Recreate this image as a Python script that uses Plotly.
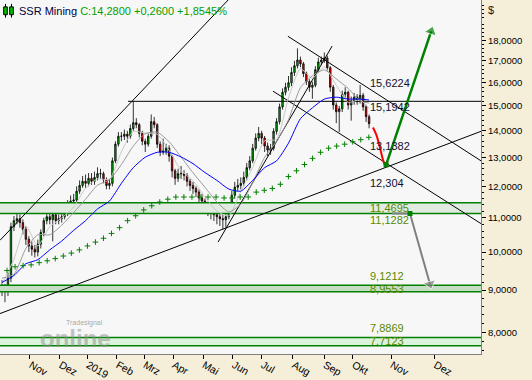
import math
import numpy as np
import plotly.graph_objects as go

# ---------------- data (2-trading-day bars, index = bar number) ----------------
opens = [9.10, 9.04, 9.00, 9.30, 10.73, 10.91, 10.97, 10.85, 10.65, 10.36,
         10.17, 10.08, 10.00, 10.22, 10.56, 10.91, 11.03, 10.94, 11.09, 10.91,
         10.97, 11.03, 11.15, 11.40, 11.52, 11.55, 11.84, 12.03, 12.17, 12.10,
         12.27, 12.17, 12.30, 12.43, 12.43, 12.23, 12.03, 12.10, 12.88, 13.49,
         13.79, 13.79, 13.87, 13.79, 14.09, 14.32, 14.24, 13.90, 13.60, 13.49,
         13.79, 14.36, 14.24, 13.49, 13.20, 13.23, 13.34, 13.05, 12.53, 12.27,
         12.43, 12.43, 12.37, 12.17, 12.03, 11.93, 11.81, 11.62, 11.52, 11.40,
         11.27, 11.21, 11.09, 11.03, 10.97, 10.94, 11.03, 11.33, 11.71, 11.97,
         12.03, 12.10, 12.30, 12.64, 12.88, 13.34, 13.72, 13.90, 13.72, 13.42,
         13.27, 13.34, 13.98, 14.36, 14.96, 15.58, 15.80, 16.00, 16.46, 16.77,
         17.04, 16.86, 16.41, 16.05, 15.80, 15.89, 16.59, 16.95, 17.04, 17.14,
         16.68, 15.80, 15.04, 14.76, 14.88, 15.50, 15.58, 15.04, 15.20, 15.37,
         15.25, 15.45, 14.96, 14.56]
highs = [9.25, 9.15, 9.45, 10.85, 11.05, 11.12, 11.10, 10.95, 10.75, 10.45,
         10.30, 10.20, 10.35, 10.65, 11.00, 11.20, 11.15, 11.25, 11.20, 11.10,
         11.20, 11.30, 11.55, 11.70, 11.75, 12.00, 12.20, 12.35, 12.40, 12.45,
         12.45, 12.50, 12.65, 12.60, 12.50, 12.30, 12.25, 13.00, 13.60, 13.95,
         13.95, 14.05, 14.00, 14.25, 15.20, 14.50, 14.30, 14.00, 13.70, 13.90,
         14.65, 14.55, 14.30, 13.60, 13.70, 13.50, 13.45, 13.10, 12.60, 12.60,
         12.70, 12.55, 12.45, 12.25, 12.15, 12.00, 11.90, 11.75, 11.60, 11.50,
         11.40, 11.30, 11.20, 11.15, 11.10, 11.20, 11.45, 11.85, 12.15, 12.25,
         12.30, 12.50, 12.80, 13.05, 13.50, 13.90, 14.15, 14.00, 13.80, 13.55,
         13.50, 14.10, 14.50, 15.10, 15.75, 16.00, 16.30, 16.70, 17.00, 17.60,
         17.20, 16.95, 16.50, 16.15, 16.05, 16.75, 17.15, 17.20, 17.40, 17.25,
         16.75, 15.90, 15.15, 15.00, 15.65, 15.80, 15.65, 15.40, 15.55, 15.50,
         15.90, 15.55, 15.05, 14.65]
lows = [8.85, 8.70, 8.85, 9.20, 10.60, 10.80, 10.70, 10.50, 10.20, 10.00,
        9.90, 9.85, 9.88, 10.10, 10.45, 10.80, 10.80, 10.30, 10.80, 10.80,
        10.85, 10.95, 11.05, 11.30, 11.40, 11.45, 11.75, 11.95, 11.95, 12.00,
        12.05, 12.05, 12.20, 12.25, 12.10, 11.90, 11.90, 12.00, 12.80, 13.40,
        13.60, 13.65, 13.55, 13.70, 14.00, 14.10, 13.75, 13.45, 13.20, 13.40,
        13.70, 14.10, 13.35, 13.05, 13.10, 13.10, 12.85, 12.30, 12.05, 12.15,
        12.25, 12.20, 12.00, 11.85, 11.75, 11.65, 11.45, 11.35, 11.20, 11.05,
        10.95, 10.90, 10.80, 10.75, 10.65, 10.70, 10.95, 11.25, 11.60, 11.85,
        11.90, 12.00, 12.20, 12.55, 12.80, 13.25, 13.60, 13.50, 13.20, 13.05,
        13.10, 13.25, 13.85, 14.25, 14.85, 15.45, 15.65, 15.85, 16.30, 16.65,
        16.70, 16.25, 15.90, 15.60, 15.30, 15.80, 16.45, 16.80, 16.90, 16.50,
        15.60, 14.85, 14.30, 13.95, 14.75, 15.35, 14.85, 14.40, 15.05, 15.05,
        15.10, 14.80, 14.35, 14.10]
closes = [9.04, 9.00, 9.30, 10.73, 10.91, 10.97, 10.85, 10.65, 10.36, 10.17,
          10.08, 10.00, 10.22, 10.56, 10.91, 11.03, 10.94, 11.09, 10.91, 10.97,
          11.03, 11.15, 11.40, 11.52, 11.55, 11.84, 12.03, 12.17, 12.10, 12.27,
          12.17, 12.30, 12.43, 12.43, 12.23, 12.03, 12.10, 12.88, 13.49, 13.79,
          13.79, 13.87, 13.79, 14.09, 14.32, 14.24, 13.90, 13.60, 13.49, 13.79,
          14.36, 14.24, 13.49, 13.20, 13.23, 13.34, 13.05, 12.53, 12.27, 12.43,
          12.43, 12.37, 12.17, 12.03, 11.93, 11.81, 11.62, 11.52, 11.40, 11.27,
          11.21, 11.09, 11.03, 10.97, 10.94, 11.03, 11.33, 11.71, 11.97, 12.03,
          12.10, 12.30, 12.64, 12.88, 13.34, 13.72, 13.90, 13.72, 13.42, 13.27,
          13.34, 13.98, 14.36, 14.96, 15.58, 15.80, 16.00, 16.46, 16.77, 17.04,
          16.86, 16.41, 16.05, 15.80, 15.89, 16.59, 16.95, 17.04, 17.14, 16.68,
          15.80, 15.04, 14.76, 14.88, 15.50, 15.58, 15.04, 15.20, 15.37, 15.25,
          15.45, 14.96, 14.56, 14.28]
bars = list(range(len(closes)))

# moving averages sampled every 4 bars (last at bar 123)
ma_bars = list(range(0, 121, 4)) + [123]
ma_fast = [9.15, 9.80, 10.75, 10.17, 10.73, 10.99, 11.33, 11.94, 12.25, 12.24,
           13.21, 13.97, 13.91, 13.87, 13.26, 12.54, 12.19, 11.66, 11.20, 11.06,
           11.83, 12.65, 13.62, 13.67, 15.34, 16.63, 16.20, 16.72, 15.88, 15.15,
           15.26, 14.90]
ma_mid = [9.30, 9.40, 10.10, 10.49, 10.49, 10.77, 11.16, 11.58, 12.04, 12.22,
          12.75, 13.42, 13.89, 13.95, 13.58, 13.02, 12.46, 11.97, 11.49, 11.18,
          11.42, 12.13, 13.01, 13.59, 14.44, 15.78, 16.31, 16.58, 16.17, 15.75,
          15.21, 15.12]
ma_blue = [9.19, 9.37, 9.68, 9.79, 10.06, 10.31, 10.62, 10.91, 11.27, 11.52,
           12.10, 12.64, 13.01, 13.19, 13.19, 13.02, 12.78, 12.47, 12.20, 11.91,
           11.84, 12.20, 12.64, 12.88, 13.53, 14.48, 14.92, 15.29, 15.37, 15.29,
           15.29, 15.25]
# slow average drawn as weekly "+" marks
ma_slow = [9.50, 9.60, 9.63, 9.65, 9.71, 9.76, 9.82, 9.89, 9.97, 10.06,
           10.17, 10.28, 10.39, 10.53, 10.70, 10.91, 11.06, 11.24, 11.37, 11.49,
           11.58, 11.65, 11.65, 11.65, 11.65, 11.65, 11.65, 11.62, 11.62, 11.65,
           11.65, 11.81, 11.87, 11.93, 12.07, 12.33, 12.53, 12.75, 12.97, 13.19,
           13.34, 13.42, 13.49, 13.58, 13.66, 13.75]
slow_bars = 1.68 + 2.694 * np.arange(len(ma_slow))

# horizontal levels / zones
zones = [(11.1282, 11.4695, '#E1EBE1'), (8.9553, 9.1212, '#C4DDC4'), (7.7123, 7.8869, '#DBF2DB')]
levels = [("15,6224", 15.6224, 8, '#101030'), ("15,1942", 15.1942, -6, '#101030'),
          ("13,1382", 13.1382, 8, '#101030'), ("12,304", 12.304, -6, '#101030'),
          ("11,4695", 11.4695, -5, '#5a8a00'), ("11,1282", 11.1282, -6, '#5a8a00'),
          ("9,1212", 9.1212, 9, '#5a8a00'), ("8,9553", 8.9553, 3, '#5a8a00'),
          ("7,8869", 7.8869, 10, '#5a8a00'), ("7,7123", 7.7123, 5, '#5a8a00')]

# trend lines: (bar0, price0, bar1, price1)
trend_lines = [(-0.67, 8.43, 160.5, 13.98),
               (-0.67, 10.33, 79.8, 20.85),
               (95.8, 18.20, 160.5, 12.88),
               (90.8, 15.63, 160.5, 10.82),
               (72.4, 10.28, 110.6, 17.71),
               (42.2, 15.1942, 160.5, 15.1942)]

# projections
red_path_bars = [124.3, 125.4, 126.5, 127.6, 128.4]
red_path_vals = [14.13, 13.85, 13.42, 12.94, 12.69]
green_arrow_bars = [128.7, 143.8]
green_arrow_vals = [12.74, 18.45]
gray_arrow_bars = [130.7, 136.7, 143.4]
gray_arrow_vals = [11.1282, 11.1282, 9.15]

month_pos = [9.38, 19.4, 28.5, 38.5, 47.6, 57.3, 67.4, 77.4, 87.1, 97.5, 107.9, 117.6, 130.4, 145.0]
month_labels = ["Nov", "Dez", "2019", "Feb", "Mrz", "Apr", "Mai", "Jun", "Jul", "Aug", "Sep", "Okt", "Nov", "Dez"]
y_ticks = [8, 9, 10, 11, 12, 13, 14, 15, 16, 17, 18]
y_ticktext = ["%d,0000" % v for v in y_ticks]

X_RANGE = [-0.67, 160.5]
Y_RANGE = [0.8771, 1.3038]
FONT = "Liberation Sans"

fig = go.Figure()

# zones
for lo, hi, col in zones:
    fig.add_trace(go.Scatter(x=X_RANGE, y=[lo, lo], mode='lines',
                             line=dict(color='#008000', width=1.5), hoverinfo='skip', showlegend=False))
    fig.add_trace(go.Scatter(x=X_RANGE, y=[hi, hi], mode='lines', fill='tonexty', fillcolor=col,
                             line=dict(color='#008000', width=1.5), hoverinfo='skip', showlegend=False))

# trend lines
for b0, p0, b1, p1 in trend_lines:
    fig.add_trace(go.Scatter(x=[b0, b1], y=[p0, p1], mode='lines',
                             line=dict(color='black', width=1), hoverinfo='skip', showlegend=False))

# candles
fig.add_trace(go.Candlestick(x=bars, open=opens, high=highs, low=lows, close=closes,
                             increasing=dict(line=dict(color='black', width=0.8), fillcolor='#00C000'),
                             decreasing=dict(line=dict(color='black', width=0.8), fillcolor='#FF0000'),
                             whiskerwidth=0, showlegend=False))

# moving averages
fig.add_trace(go.Scatter(x=ma_bars, y=ma_fast, mode='lines', line=dict(color='#C8C8C8', width=1, shape='spline', smoothing=0.6), showlegend=False))
fig.add_trace(go.Scatter(x=ma_bars, y=ma_mid, mode='lines', line=dict(color='#9A9A9A', width=1, shape='spline', smoothing=0.6), showlegend=False))
fig.add_trace(go.Scatter(x=ma_bars, y=ma_blue, mode='lines', line=dict(color='#0000FF', width=1, shape='spline', smoothing=0.6), showlegend=False))
fig.add_trace(go.Scatter(x=slow_bars, y=ma_slow, mode='markers',
                         marker=dict(symbol='cross-thin', size=4, line=dict(color='#008000', width=1)), showlegend=False))

# projections
fig.add_trace(go.Scatter(x=red_path_bars, y=red_path_vals, mode='lines',
                         line=dict(color='#FF0000', width=2, shape='spline'), showlegend=False))
fig.add_trace(go.Scatter(x=green_arrow_bars, y=green_arrow_vals, mode='lines+markers',
                         line=dict(color='#008000', width=2.5),
                         marker=dict(symbol='triangle-up', size=[0, 11], color='#008000', angleref='previous'),
                         showlegend=False))
fig.add_trace(go.Scatter(x=gray_arrow_bars, y=gray_arrow_vals, mode='lines+markers',
                         line=dict(color='#808080', width=2),
                         marker=dict(symbol='triangle-up', size=[0, 0, 11], color='#808080', angleref='previous'),
                         showlegend=False))
fig.add_trace(go.Scatter(x=[green_arrow_bars[0], gray_arrow_bars[1]], y=[green_arrow_vals[0], gray_arrow_vals[1]],
                         mode='markers', marker=dict(symbol='square', size=5, color='#008000'), showlegend=False))

annotations = []
for txt, val, ys, col in levels:
    annotations.append(dict(x=122.7, y=math.log10(val), xref='x', yref='y', text=txt, showarrow=False,
                            xanchor='left', yanchor='middle', yshift=ys,
                            font=dict(family=FONT, size=11, color=col)))
annotations.append(dict(x=17 / 481, y=1 - 11 / 361, xref='paper', yref='paper', xanchor='left', yanchor='middle',
                        showarrow=False,
                        text="<span style='color:#000040'>SSR Mining</span> "
                             "<span style='color:#00A000'>C:14,2800 +0,2600 +1,8545%</span>",
                        font=dict(family=FONT, size=11)))
annotations.append(dict(x=1, y=1, xref='paper', yref='paper', xanchor='left', yanchor='middle',
                        xshift=5, yshift=-10, showarrow=False, text="$",
                        font=dict(family=FONT, size=11, color='#202020')))
annotations.append(dict(x=38 / 481, y=1 - 345 / 361, xref='paper', yref='paper', xanchor='left', yanchor='middle',
                        showarrow=False, text="<b>online</b>",
                        font=dict(family=FONT, size=24, color='rgba(140,140,140,0.5)')))
annotations.append(dict(x=64 / 481, y=1 - 329 / 361, xref='paper', yref='paper', xanchor='left', yanchor='middle',
                        showarrow=False, text="Tradesignal",
                        font=dict(family=FONT, size=7, color='rgba(140,140,140,0.75)')))

shapes = []
# small candlestick icon in the header
for cx in (5.5, 11.5):
    shapes.append(dict(type='line', xref='paper', yref='paper', x0=cx / 481, x1=cx / 481,
                       y0=1 - 4 / 361, y1=1 - 18 / 361, line=dict(color='black', width=1)))
    shapes.append(dict(type='rect', xref='paper', yref='paper', x0=(cx - 1.8) / 481, x1=(cx + 1.8) / 481,
                       y0=1 - 7 / 361, y1=1 - 15 / 361, fillcolor='#00C000', line=dict(color='black', width=1)))

minor_vals = [round(v, 1) for v in np.arange(7.6, 20.01, 0.2) if abs(v - round(v)) > 0.05]

fig.update_layout(
    width=532, height=380, margin=dict(l=0, r=51, t=0, b=19),
    paper_bgcolor='#F5EFDA', plot_bgcolor='#F7F7F7',
    showlegend=False, annotations=annotations, shapes=shapes,
    xaxis=dict(range=X_RANGE, tickmode='array', tickvals=month_pos, ticktext=month_labels,
               ticks='outside', ticklen=4, tickcolor='black', ticklabelposition='outside right',
               showgrid=False, zeroline=False, showline=True, linecolor='#808080', linewidth=1,
               rangeslider=dict(visible=False), fixedrange=True,
               tickfont=dict(family=FONT, size=10.5, color='black')),
    yaxis=dict(type='log', side='right', range=Y_RANGE, tickmode='array', tickvals=y_ticks, ticktext=y_ticktext,
               ticks='outside', ticklen=4, tickcolor='black', showgrid=False, zeroline=False,
               showline=True, linecolor='#808080', linewidth=1, fixedrange=True,
               tickfont=dict(family=FONT, size=9.5, color='black'),
               minor=dict(tickmode='array', tickvals=minor_vals, ticks='outside', ticklen=2, tickcolor='black')),
)

fig.write_html("out.html")
